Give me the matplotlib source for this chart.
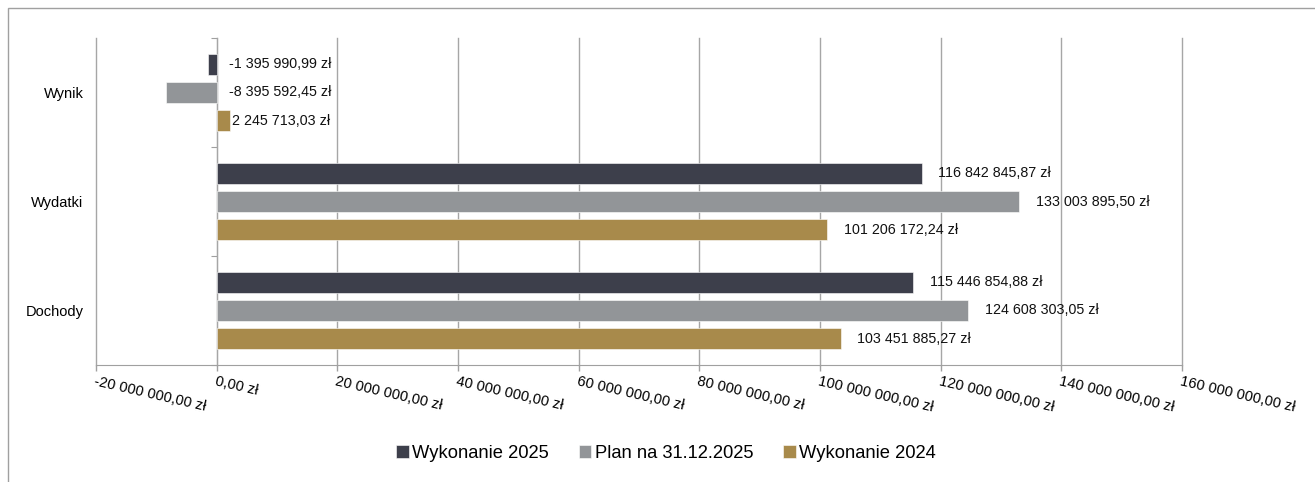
import matplotlib.pyplot as plt
from matplotlib.patches import Rectangle
import numpy as np

plt.rcParams['font.family'] = ['Liberation Sans', 'DejaVu Sans']

# dane
kategorie = ["Dochody", "Wydatki", "Wynik"]
serie = ["Wykonanie 2025", "Plan na 31.12.2025", "Wykonanie 2024"]
wykonanie_2025 = [115446854.88, 116842845.87, -1395990.99]
plan_2025 = [124608303.05, 133003895.50, -8395592.45]
wykonanie_2024 = [103451885.27, 101206172.24, 2245713.03]
kolory = ["#3d3f4b", "#929598", "#a88a4b"]


def zl(v, dec=2):
    s = f"{abs(v):,.{dec}f}".replace(",", " ").replace(".", ",")
    return ("-" if v < 0 else "") + s + " zł"


fig = plt.figure(figsize=(13.15, 4.82), dpi=100)
ax = fig.add_axes([96/1315, 1-365/482, (1182-96)/1315, (365-38)/482])

y = np.arange(len(kategorie))
h = 0.19
offs = [0.257, 0.0, -0.257]
wartosci = [wykonanie_2025, plan_2025, wykonanie_2024]

for vals, off, c, nazwa in zip(wartosci, offs, kolory, serie):
    bars = ax.barh(y + off, vals, height=h, color=c, label=nazwa,
                   edgecolor="white", linewidth=0.4, zorder=3)
    for b, v in zip(bars, vals):
        if v > 20e6:
            dx = 12
        elif v < 0:
            dx = 9
        else:
            dx = 1
        ax.annotate(zl(v), xy=(max(v, 0), b.get_y() + h/2), xytext=(dx, 0),
                    textcoords="offset points", ha="left", va="center",
                    fontsize=10.3, color="#111111", zorder=4)

ax.set_xlim(-20e6, 160e6)
ax.set_ylim(-0.5, 2.5)
xt = np.arange(-20e6, 160e6 + 1, 20e6)
ax.set_xticks(xt)
ax.set_xticklabels([zl(v) for v in xt], rotation=-13, ha="left", va="top",
                   rotation_mode="anchor", fontsize=10.5)
ax.tick_params(axis="x", length=4, color="#a0a0a0", width=1, pad=3)
ax.set_yticks(y)
ax.set_yticklabels(kategorie, fontsize=10.5)
ax.tick_params(axis="y", length=0, pad=9)
ax.grid(axis="x", color="#a6a6a6", linewidth=1, zorder=0)
for gl in ax.get_xgridlines():
    gl.set_clip_on(False)

for s in ["left", "right", "top"]:
    ax.spines[s].set_visible(False)
ax.spines["bottom"].set_color("#a0a0a0")

# os kategorii przy zerze
sec = ax.secondary_yaxis(1/9)
sec.set_yticks([-0.5, 0.5, 1.5, 2.5])
sec.set_yticklabels([])
sec.tick_params(length=4, color="#a0a0a0")
sec.spines["left"].set_color("#a0a0a0")

fig.legend(loc="center", bbox_to_anchor=(666/1315, 1-453/482), ncol=3,
           frameon=False, fontsize=13.2, handlelength=0.7, handleheight=0.7,
           handletextpad=0.2, columnspacing=1.6)

# ramka
fig.patches.append(Rectangle((8/1315, -0.1), 1.2, 1.1 - 8/482,
                             transform=fig.transFigure, fill=False,
                             edgecolor="#a0a0a0", linewidth=1))

plt.savefig("out.png", dpi=100)
